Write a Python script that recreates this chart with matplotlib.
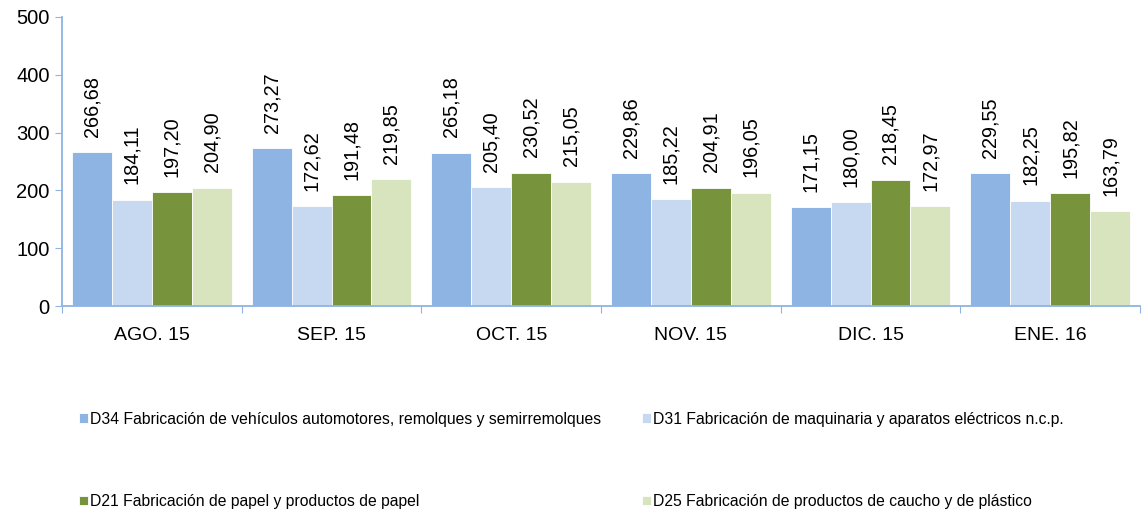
import matplotlib
matplotlib.use("Agg")
import matplotlib.pyplot as plt
import numpy as np

plt.rcParams['font.family'] = ['Liberation Sans', 'DejaVu Sans']

# Datos
months = ['AGO. 15', 'SEP. 15', 'OCT. 15', 'NOV. 15', 'DIC. 15', 'ENE. 16']
series_names = [
    'D34 Fabricación de vehículos automotores, remolques y semirremolques',
    'D31 Fabricación de maquinaria y aparatos eléctricos n.c.p.',
    'D21 Fabricación de papel y productos de papel',
    'D25 Fabricación de productos de caucho y de plástico',
]
d34 = [266.68, 273.27, 265.18, 229.86, 171.15, 229.55]
d31 = [184.11, 172.62, 205.40, 185.22, 180.00, 182.25]
d21 = [197.20, 191.48, 230.52, 204.91, 218.45, 195.82]
d25 = [204.90, 219.85, 215.05, 196.05, 172.97, 163.79]
colors = ['#8EB4E3', '#C6D9F1', '#77933C', '#D7E4BD']

fig = plt.figure(figsize=(11.42, 5.11), dpi=100)
ax = fig.add_axes([0.0543, 0.401, 0.944, 0.566])

x = np.arange(len(months))
w = 0.222
handles = []
for k, (vals, name, c) in enumerate(zip([d34, d31, d21, d25], series_names, colors)):
    pos = x - 1.5 * w + k * w
    b = ax.bar(pos, vals, width=w, color=c, edgecolor='white', linewidth=0.6, label=name)
    handles.append(b)
    for p, v in zip(pos, vals):
        ax.annotate(f'{v:.2f}'.replace('.', ','), (p, v), xytext=(0, 11),
                    textcoords='offset points', rotation=90, ha='center', va='bottom',
                    fontsize=14.3)

ax.set_xlim(-0.5, len(months) - 0.5)
ax.set_ylim(0, 500)
ax.set_yticks([0, 100, 200, 300, 400, 500])
ax.tick_params(axis='y', labelsize=14.5, length=5, color='#8EB4E3', pad=4)
ax.set_xticks(np.arange(len(months) + 1) - 0.5)
ax.set_xticklabels([])
ax.set_xticks(x, minor=True)
ax.set_xticklabels(months, minor=True)
ax.tick_params(axis='x', which='major', length=5, color='#8EB4E3')
ax.tick_params(axis='x', which='minor', length=0, labelsize=14, pad=15)

for s in ['top', 'right']:
    ax.spines[s].set_visible(False)
for s in ['left', 'bottom']:
    ax.spines[s].set_color('#8EB4E3')
    ax.spines[s].set_linewidth(1.3)

# legend filled column-wise: reorder so rows read D34, D31 / D21, D25
order = [0, 2, 1, 3]
fig.legend(handles=[handles[i] for i in order], loc='upper left',
           bbox_to_anchor=(0.062, 0.21), ncol=2, frameon=False, fontsize=11.3,
           handlelength=0.6, handleheight=0.6, handletextpad=0.15,
           labelspacing=4.3, columnspacing=2.55, borderpad=0)

fig.savefig('out.png', dpi=100)
